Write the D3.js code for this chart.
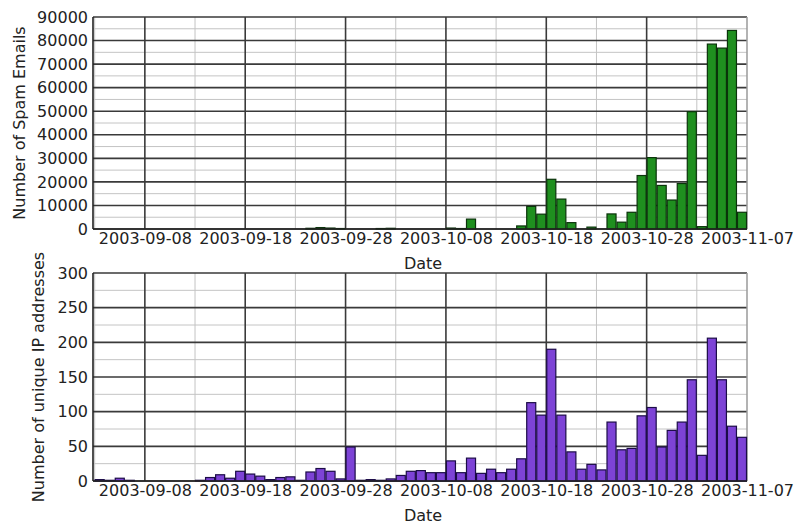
<!DOCTYPE html>
<html><head><meta charset="utf-8">
<script src="https://cdn.jsdelivr.net/npm/d3@7"></script>
<style>
body{margin:0;background:#fff}
svg{display:block}
text{font-family:"DejaVu Sans",sans-serif;fill:#222}
</style>
</head><body>
<svg id="c" width="796" height="524"></svg>
<script>
const dates = [
"2003-09-03","2003-09-04","2003-09-05","2003-09-06","2003-09-07","2003-09-08","2003-09-09","2003-09-10","2003-09-11","2003-09-12",
"2003-09-13","2003-09-14","2003-09-15","2003-09-16","2003-09-17","2003-09-18","2003-09-19","2003-09-20","2003-09-21","2003-09-22",
"2003-09-23","2003-09-24","2003-09-25","2003-09-26","2003-09-27","2003-09-28","2003-09-29","2003-09-30",
"2003-10-01","2003-10-02","2003-10-03","2003-10-04","2003-10-05","2003-10-06","2003-10-07","2003-10-08","2003-10-09","2003-10-10",
"2003-10-11","2003-10-12","2003-10-13","2003-10-14","2003-10-15","2003-10-16","2003-10-17","2003-10-18","2003-10-19","2003-10-20",
"2003-10-21","2003-10-22","2003-10-23","2003-10-24","2003-10-25","2003-10-26","2003-10-27","2003-10-28","2003-10-29","2003-10-30",
"2003-10-31","2003-11-01","2003-11-02","2003-11-03","2003-11-04","2003-11-05","2003-11-06"];

const spamEmails = [
0,0,0,0,0,0,0,0,0,0,
0,0,0,0,0,0,0,0,0,0,
0,300,600,400,200,0,0,0,
200,300,0,0,0,0,0,400,200,4200,
0,0,0,0,1300,9600,6300,21100,12700,2700,
0,800,0,6400,2900,7100,22700,30300,18500,12300,
19300,49800,1000,78500,76800,84300,7100];

const uniqueIPs = [
2,1,4,1,0,0,0,0,0,0,
1,5,9,4,14,10,7,2,5,6,
1,13,18,14,3,49,1,2,
1,3,8,14,15,12,12,29,12,33,
11,17,12,17,32,113,95,190,95,42,
17,24,16,85,45,47,94,106,49,73,
85,146,37,206,146,79,63];

const dateTicks = ["2003-09-08","2003-09-18","2003-09-28","2003-10-08","2003-10-18","2003-10-28","2003-11-07"];
const minorDateTicks = ["2003-09-03","2003-09-13","2003-09-23","2003-10-03","2003-10-13","2003-10-23","2003-11-02"];
const spamTicks = [0,10000,20000,30000,40000,50000,60000,70000,80000,90000];
const ipTicks = [0,50,100,150,200,250,300];

const parse = d3.utcParse("%Y-%m-%d");
const fmt = d3.utcFormat("%Y-%m-%d");
const svg = d3.select("#c");

const x = d3.scaleUtc()
  .domain([new Date(Date.UTC(2003,8,2,20)), parse("2003-11-07")])
  .range([93, 747]);

function panel(o) {
  const y = d3.scaleLinear().domain([0, o.max]).range([o.bottom, o.top]);
  const g = svg.append("g");
  // minor horizontal
  const minors = d3.range(o.minorStep, o.max, o.majorStep);
  g.selectAll(".mh").data(minors).join("line")
    .attr("x1", 93).attr("x2", 747).attr("y1", d => y(d)).attr("y2", d => y(d))
    .attr("stroke", "#c4c4c4").attr("stroke-width", 1);
  // minor vertical
  g.selectAll(".mv").data(minorDateTicks.map(parse)).join("line")
    .attr("x1", d => x(d)).attr("x2", d => x(d)).attr("y1", o.top).attr("y2", o.bottom)
    .attr("stroke", "#c4c4c4").attr("stroke-width", 1);
  // major horizontal
  g.selectAll(".Mh").data(o.ticks).join("line")
    .attr("x1", 93).attr("x2", 747).attr("y1", d => y(d)).attr("y2", d => y(d))
    .attr("stroke", "#3a3a3a").attr("stroke-width", 1.6);
  // major vertical
  g.selectAll(".Mv").data(dateTicks.slice(0, -1).map(parse)).join("line")
    .attr("x1", d => x(d)).attr("x2", d => x(d)).attr("y1", o.top).attr("y2", o.bottom)
    .attr("stroke", "#3a3a3a").attr("stroke-width", 1.6);
  // right border
  g.append("line").attr("x1", 747).attr("x2", 747).attr("y1", o.top).attr("y2", o.bottom)
    .attr("stroke", "#9a9a9a").attr("stroke-width", 1.5);
  // bars
  const data = dates.map((d, i) => ({d: parse(d), v: o.values[i]})).filter(e => e.v > 0);
  g.selectAll(".bar").data(data).join("rect")
    .attr("x", e => x(e.d) + 0.5)
    .attr("width", e => x(d3.utcDay.offset(e.d, 1)) - x(e.d) - 1)
    .attr("y", e => y(e.v))
    .attr("height", e => o.bottom - y(e.v))
    .attr("fill", o.fill).attr("stroke", o.stroke).attr("stroke-width", 1.2);
  // left axis line and baseline
  g.append("line").attr("x1", 93).attr("x2", 93).attr("y1", o.top).attr("y2", o.bottom)
    .attr("stroke", "#222").attr("stroke-width", 1.6);
  g.append("line").attr("x1", 93).attr("x2", 747).attr("y1", o.bottom).attr("y2", o.bottom)
    .attr("stroke", "#222").attr("stroke-width", 1.6);
  // axes
  const ya = svg.append("g").attr("transform", "translate(93,0)")
    .call(d3.axisLeft(y).tickValues(o.ticks).tickFormat(d3.format("d")).tickSize(0).tickPadding(5));
  ya.select(".domain").remove();
  ya.selectAll("text").style("font-size", "16px").style("font-family", "DejaVu Sans").attr("fill", "#222");
  const xa = svg.append("g").attr("transform", `translate(0,${o.bottom})`)
    .call(d3.axisBottom(x).tickValues(dateTicks.map(parse)).tickFormat(fmt).tickSize(0).tickPadding(4));
  xa.select(".domain").remove();
  xa.selectAll("text").style("font-size", "16px").style("font-family", "DejaVu Sans").attr("fill", "#222");
  // labels
  svg.append("text").attr("x", 423).attr("y", o.dateY).attr("text-anchor", "middle")
    .style("font-size", "16px").text("Date");
  svg.append("text").attr("transform", `translate(${o.labelX},${(o.top + o.bottom) / 2}) rotate(-90)`)
    .attr("text-anchor", "middle").style("font-size", "16px").text(o.ylabel);
}

panel({values: spamEmails, max: 90000, majorStep: 10000, minorStep: 5000, ticks: spamTicks,
  top: 17, bottom: 229, dateY: 269, labelX: 25, ylabel: "Number of Spam Emails",
  fill: "#1f8f1f", stroke: "#0b330b"});
panel({values: uniqueIPs, max: 300, majorStep: 50, minorStep: 25, ticks: ipTicks,
  top: 273, bottom: 481, dateY: 521, labelX: 44, ylabel: "Number of unique IP addresses",
  fill: "#7d43d6", stroke: "#1c0c48"});
</script>
</body></html>
